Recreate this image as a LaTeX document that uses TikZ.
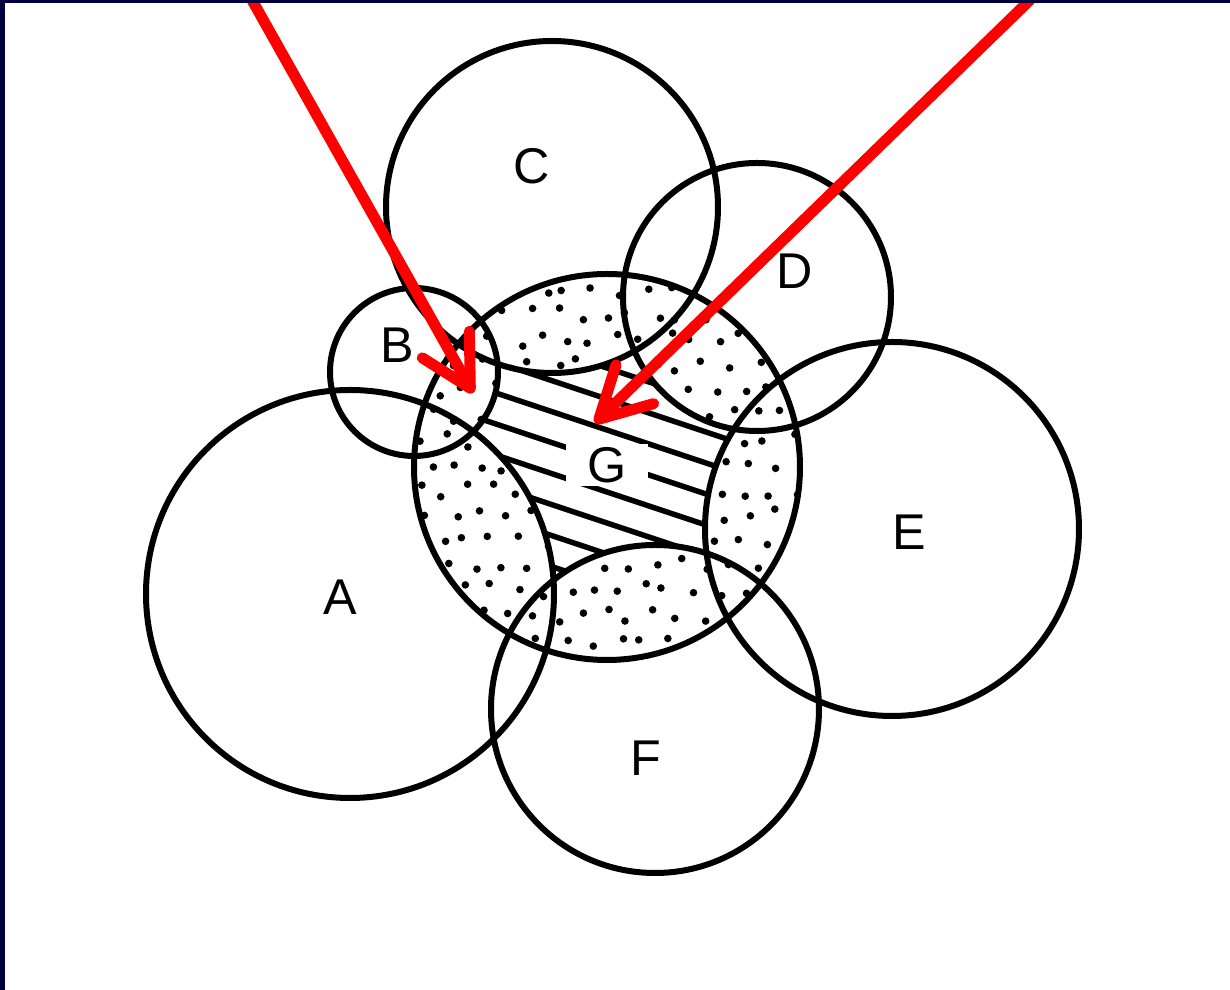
\documentclass[tikz,border=0pt]{standalone}
\usepackage{fontspec}
\setsansfont{Liberation Sans}
\usetikzlibrary{arrows.meta}
\usepackage{xcolor}
\definecolor{Navy}{HTML}{00003F}
\definecolor{Marker}{HTML}{FF0000}

\tikzset{
  ring/.style={draw=black,line width=0.6mm},
  hatchline/.style={draw=black,line width=0.55mm},
  pointer/.style={draw=Marker,line width=1.1mm,line cap=round,
    -{Straight Barb[length=5mm,width=5.4mm,round]}},
  letter/.style={font=\fontsize{14.3}{16}\selectfont\sffamily,inner sep=1pt}
}

\begin{document}
\begin{tikzpicture}[x=0.1mm,y=-0.1mm]
    \useasboundingbox (0,0) rectangle (1230,990);
    \fill[white] (0,0) rectangle (1230,990);
    \coordinate (cA) at (350,594);
    \coordinate (cB) at (414,372);
    \coordinate (cC) at (552,207);
    \coordinate (cD) at (757,297);
    \coordinate (cE) at (892,529);
    \coordinate (cF) at (655,709);
    \coordinate (cG) at (607,467);
    % free part of G
    \begin{scope}
      \clip (cG) circle (193);
      \foreach \k in {-5,...,14}{
        \pgfmathsetmacro{\y}{392+\k*31}
        \draw[hatchline] (400,\y) -- (820,\y+140);
      }
    \end{scope}
    % shared parts of G
    \begin{scope}
      \clip (cG) circle (193);
      \clip (cA) circle (204) (cB) circle (84) (cC) circle (166)
            (cD) circle (134) (cE) circle (187) (cF) circle (164);
      \fill[white] (400,260) rectangle (820,680);
      \pgfmathsetseed{7}
      \foreach \i in {0,...,16}{
        \foreach \j in {0,...,16}{
          \pgfmathsetmacro{\x}{405+\i*25+mod(\j,2)*12+rand*7}
          \pgfmathsetmacro{\y}{265+\j*25+rand*7}
          \fill (\x,\y) circle (3.8);
        }
      }
    \end{scope}
    \draw[ring] (cA) circle (204);
    \draw[ring] (cB) circle (84);
    \draw[ring] (cC) circle (166);
    \draw[ring] (cD) circle (134);
    \draw[ring] (cE) circle (187);
    \draw[ring] (cF) circle (164);
    \draw[ring] (cG) circle (193);
    \node[letter] (labA) at (340,597) {A};
    \node[letter] (labB) at (397,345) {B};
    \node[letter] (labC) at (532,166) {C};
    \node[letter] (labD) at (795,271) {D};
    \node[letter] (labE) at (909,532) {E};
    \node[letter] (labF) at (646,758) {F};
    \node[letter,fill=white,inner xsep=6pt] (labG) at (607,465) {G};
    \coordinate (tailL) at (252,0);
    \coordinate (tipL) at (473,393);
    \coordinate (tailR) at (1030,0);
    \coordinate (tipR) at (595,423);
    \draw[pointer] (tailL) -- (tipL);
    \draw[pointer] (tailR) -- (tipR);
    \fill[Navy] (0,0) rectangle (5,990);
    \fill[Navy] (0,0) rectangle (1230,3);
  \end{tikzpicture}
\end{document}
